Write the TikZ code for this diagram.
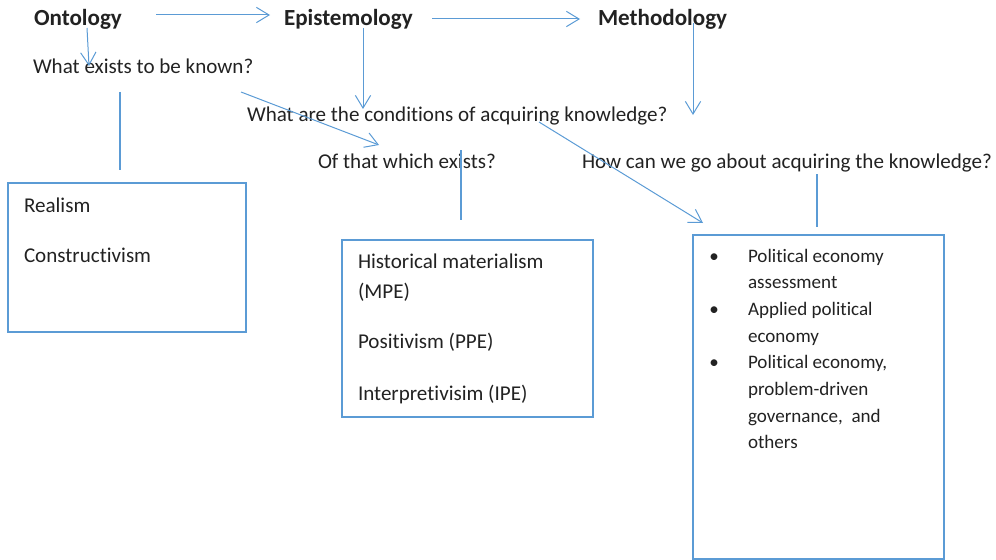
\documentclass[tikz,border=0pt]{standalone}
\usepackage{fontspec}
\setmainfont{Carlito}[Ligatures={NoCommon}]
\usetikzlibrary{arrows.meta}
\definecolor{accent}{HTML}{5B9BD5}
\definecolor{ink}{HTML}{222222}
\begin{document}
\begin{tikzpicture}[x=0.75pt,y=-0.75pt,
  every node/.style={inner sep=0pt, outer sep=0pt, text=ink},
  head/.style={font=\fontsize{17.3}{20}\selectfont\bfseries, anchor=base west},
  question/.style={font=\fontsize{15.8}{19}\selectfont, anchor=base west},
  entry/.style={font=\fontsize{15.8}{19}\selectfont, anchor=base west},
  item/.style={font=\fontsize{14.3}{20}\selectfont, anchor=base west},
  dot/.style={font=\fontsize{14.3}{20}\selectfont, anchor=base},
  frame/.style={draw=accent, line width=1.5pt, rectangle, anchor=north west},
  arr/.style={draw=accent, line width=0.75pt, -{Straight Barb[length=9.5pt,width=11.5pt]}},
  link/.style={draw=accent, line width=1pt}]
\useasboundingbox (0,0) rectangle (996,560);

% headings
\node[head] (ont)  at (34,26)  {Ontology};
\node[head] (epi)  at (284,26) {Epistemology};
\node[head] (meth) at (598,26) {Methodology};

% guiding questions
\node[question] (q1) at (33,74)   {What exists to be known?};
\node[question] (q2) at (247,122) {What are the conditions of acquiring knowledge?};
\node[question] (q3) at (318,168) {Of that which exists?};
\node[question] (q4) at (582,168) {How can we go about acquiring the knowledge?};

% boxes
\node[frame, minimum width=178.5pt, minimum height=111.75pt] (b1) at (8,183) {};
\node[frame, minimum width=188.25pt, minimum height=132.75pt] (b2) at (342,240) {};
\node[frame, minimum width=188.25pt, minimum height=243pt] (b3) at (693,235) {};

% ontological positions
\node[entry] (r1) at (24,212) {Realism};
\node[entry] (r2) at (24,262) {Constructivism};

% epistemological positions
\node[entry] (e1) at (358,268) {Historical materialism};
\node[entry] (e2) at (358,298) {(MPE)};
\node[entry] (e3) at (358,348) {Positivism (PPE)};
\node[entry] (e4) at (358,400) {Interpretivisim (IPE)};

% methodological approaches
\node[dot]  (d1) at (714,262)   {\textbullet};
\node[item] (m1) at (748,262)   {Political economy};
\node[item] (m1b) at (748,288.7) {assessment};
\node[dot]  (d2) at (714,315.4) {\textbullet};
\node[item] (m2) at (748,315.4) {Applied political};
\node[item] (m2b) at (748,342)  {economy};
\node[dot]  (d3) at (714,368.8) {\textbullet};
\node[item] (m3) at (748,368.8) {Political economy,};
\node[item] (m3b) at (748,395.5) {problem-driven};
\node[item] (m3c) at (748,422.2) {governance,\ \ and};
\node[item] (m3d) at (748,448.9) {others};

% connector end points
\coordinate (a1s) at (156,15);  \coordinate (a1e) at (270,15);
\coordinate (a2s) at (432,19);  \coordinate (a2e) at (580,19);
\coordinate (a3s) at (87,28);   \coordinate (a3e) at (89,66);
\coordinate (a4s) at (363,28);  \coordinate (a4e) at (363,109);
\coordinate (a5s) at (693,23);  \coordinate (a5e) at (693,115);
\coordinate (a6s) at (241,92);  \coordinate (a6e) at (379,145);
\coordinate (a7s) at (539,122); \coordinate (a7e) at (703,223);
\coordinate (l1s) at (120,92);  \coordinate (l1e) at (120,170);
\coordinate (l2s) at (461,150); \coordinate (l2e) at (461,220);
\coordinate (l3s) at (817,174); \coordinate (l3e) at (817,227);

% arrows
\draw[arr] (a1s) -- (a1e);
\draw[arr] (a2s) -- (a2e);
\draw[arr] (a3s) -- (a3e);
\draw[arr] (a4s) -- (a4e);
\draw[arr] (a5s) -- (a5e);
\draw[arr] (a6s) -- (a6e);
\draw[arr] (a7s) -- (a7e);

% plain links
\draw[link] (l1s) -- (l1e);
\draw[link] (l2s) -- (l2e);
\draw[link] (l3s) -- (l3e);
\end{tikzpicture}
\end{document}
